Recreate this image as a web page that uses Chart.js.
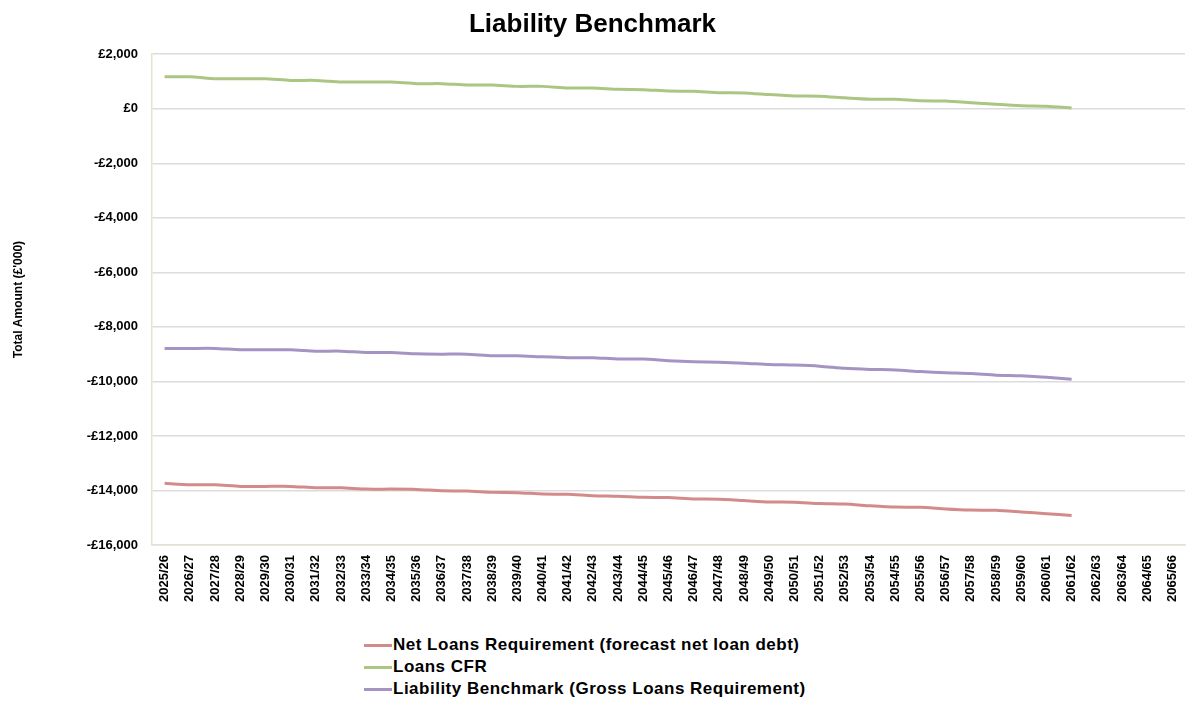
<!DOCTYPE html>
<html>
<head>
<meta charset="utf-8">
<script src="https://cdn.jsdelivr.net/npm/chart.js@4.4.1/dist/chart.umd.min.js"></script>
<style>
  html, body { margin: 0; padding: 0; background: #fff; }
  #wrap { position: relative; width: 1187px; height: 701px; }
  #chart { position: absolute; left: 0; top: 0; }
  #legend { position: absolute; left: 364px; top: 634px; font-family: "Liberation Sans", Arial, sans-serif;
    font-weight: bold; font-size: 17px; letter-spacing: 0.5px; color: #000; }
  .item { height: 22px; line-height: 22px; display: flex; align-items: center; }
  .swatch { width: 28px; height: 3px; margin-right: 1px; }
</style>
</head>
<body>
<div id="wrap">
  <canvas id="chart" width="1187" height="620"></canvas>
  <div id="legend"></div>
</div>
<script>
// Años (2025/26 - 2065/66)
const years = [
  "2025/26","2026/27","2027/28","2028/29","2029/30","2030/31","2031/32","2032/33","2033/34","2034/35",
  "2035/36","2036/37","2037/38","2038/39","2039/40","2040/41","2041/42","2042/43","2043/44","2044/45",
  "2045/46","2046/47","2047/48","2048/49","2049/50","2050/51","2051/52","2052/53","2053/54","2054/55",
  "2055/56","2056/57","2057/58","2058/59","2059/60","2060/61","2061/62","2062/63","2063/64","2064/65","2065/66"
];

// Series (£'000), datos hasta 2061/62
const netLoans = [
  -13735,-13790,-13790,-13850,-13850,-13850,-13900,-13900,-13950,-13950,
  -13960,-14010,-14020,-14070,-14080,-14130,-14140,-14190,-14210,-14250,
  -14260,-14310,-14320,-14370,-14420,-14430,-14480,-14500,-14560,-14610,
  -14620,-14680,-14720,-14730,-14790,-14850,-14920
];
const loansCFR = [
  1170,1170,1100,1100,1100,1040,1040,980,980,980,
  920,920,870,870,820,820,760,760,710,700,
  650,640,590,580,520,470,460,400,350,350,
  290,280,220,160,110,90,30
];
const liabilityBenchmark = [
  -8790,-8790,-8790,-8840,-8840,-8840,-8890,-8890,-8940,-8940,
  -8990,-9000,-9000,-9060,-9060,-9100,-9130,-9130,-9180,-9180,
  -9240,-9280,-9300,-9330,-9380,-9400,-9440,-9520,-9560,-9580,
  -9640,-9680,-9710,-9770,-9790,-9850,-9920
];

const yMin = -16000, yMax = 2000, yStep = 2000;
const font = "'Liberation Sans', Arial, sans-serif";

function fmtMoney(v) {
  const s = "£" + Math.abs(v).toLocaleString("en-GB");
  return v < 0 ? "-" + s : s;
}

const ctx = document.getElementById("chart").getContext("2d");
const chart = new Chart(ctx, {
  type: "line",
  data: {
    labels: years,
    datasets: [
      { label: "Net Loans Requirement (forecast net loan debt)", data: netLoans, borderColor: "#d38a8b" },
      { label: "Loans CFR", data: loansCFR, borderColor: "#abc683" },
      { label: "Liability Benchmark (Gross Loans Requirement)", data: liabilityBenchmark, borderColor: "#a494c3" },
    ].map((d) => ({ ...d, borderWidth: 3, pointRadius: 0, tension: 0.2, fill: false })),
  },
  options: {
    responsive: false,
    animation: false,
    layout: { padding: { left: 0, right: 2, top: 0, bottom: 0 } },
    plugins: {
      legend: { display: false },
      tooltip: { enabled: false },
      title: {
        display: true,
        text: "Liability Benchmark",
        color: "#000",
        font: { family: font, size: 26, weight: "bold" },
        padding: { top: 9, bottom: 14 },
      },
    },
    scales: {
      x: {
        offset: true,
        grid: { color: "rgba(0,0,0,0)", drawTicks: false, offset: true },
        border: { color: "#e6e1d3", width: 1.5 },
        ticks: {
          autoSkip: false, minRotation: 90, maxRotation: 90, padding: 10,
          color: "#000", font: { family: font, size: 13, weight: "bold" },
        },
        afterFit: (s) => { s.height = 75; s.paddingLeft = 0; s.paddingRight = 0; },
      },
      y: {
        min: yMin, max: yMax,
        grid: { color: "#dcdcdc", lineWidth: 1.5, drawTicks: false },
        border: { color: "#e6e1d3", width: 1.5 },
        ticks: {
          stepSize: yStep, padding: 14, color: "#000",
          font: { family: font, size: 13, weight: "bold" },
          callback: (v) => fmtMoney(v),
        },
        title: {
          display: true, text: "Total Amount (£'000)", color: "#000",
          font: { family: font, size: 12, weight: "bold" },
          padding: { top: 11, bottom: 0 },
        },
        afterFit: (s) => { s.width = 152; },
      },
    },
  },
});

// Leyenda vertical en HTML
const legend = document.getElementById("legend");
chart.data.datasets.forEach((ds) => {
  const row = document.createElement("div");
  row.className = "item";
  row.innerHTML = `<span class="swatch" style="background:${ds.borderColor}"></span><span>${ds.label}</span>`;
  legend.appendChild(row);
});
</script>
</body>
</html>
